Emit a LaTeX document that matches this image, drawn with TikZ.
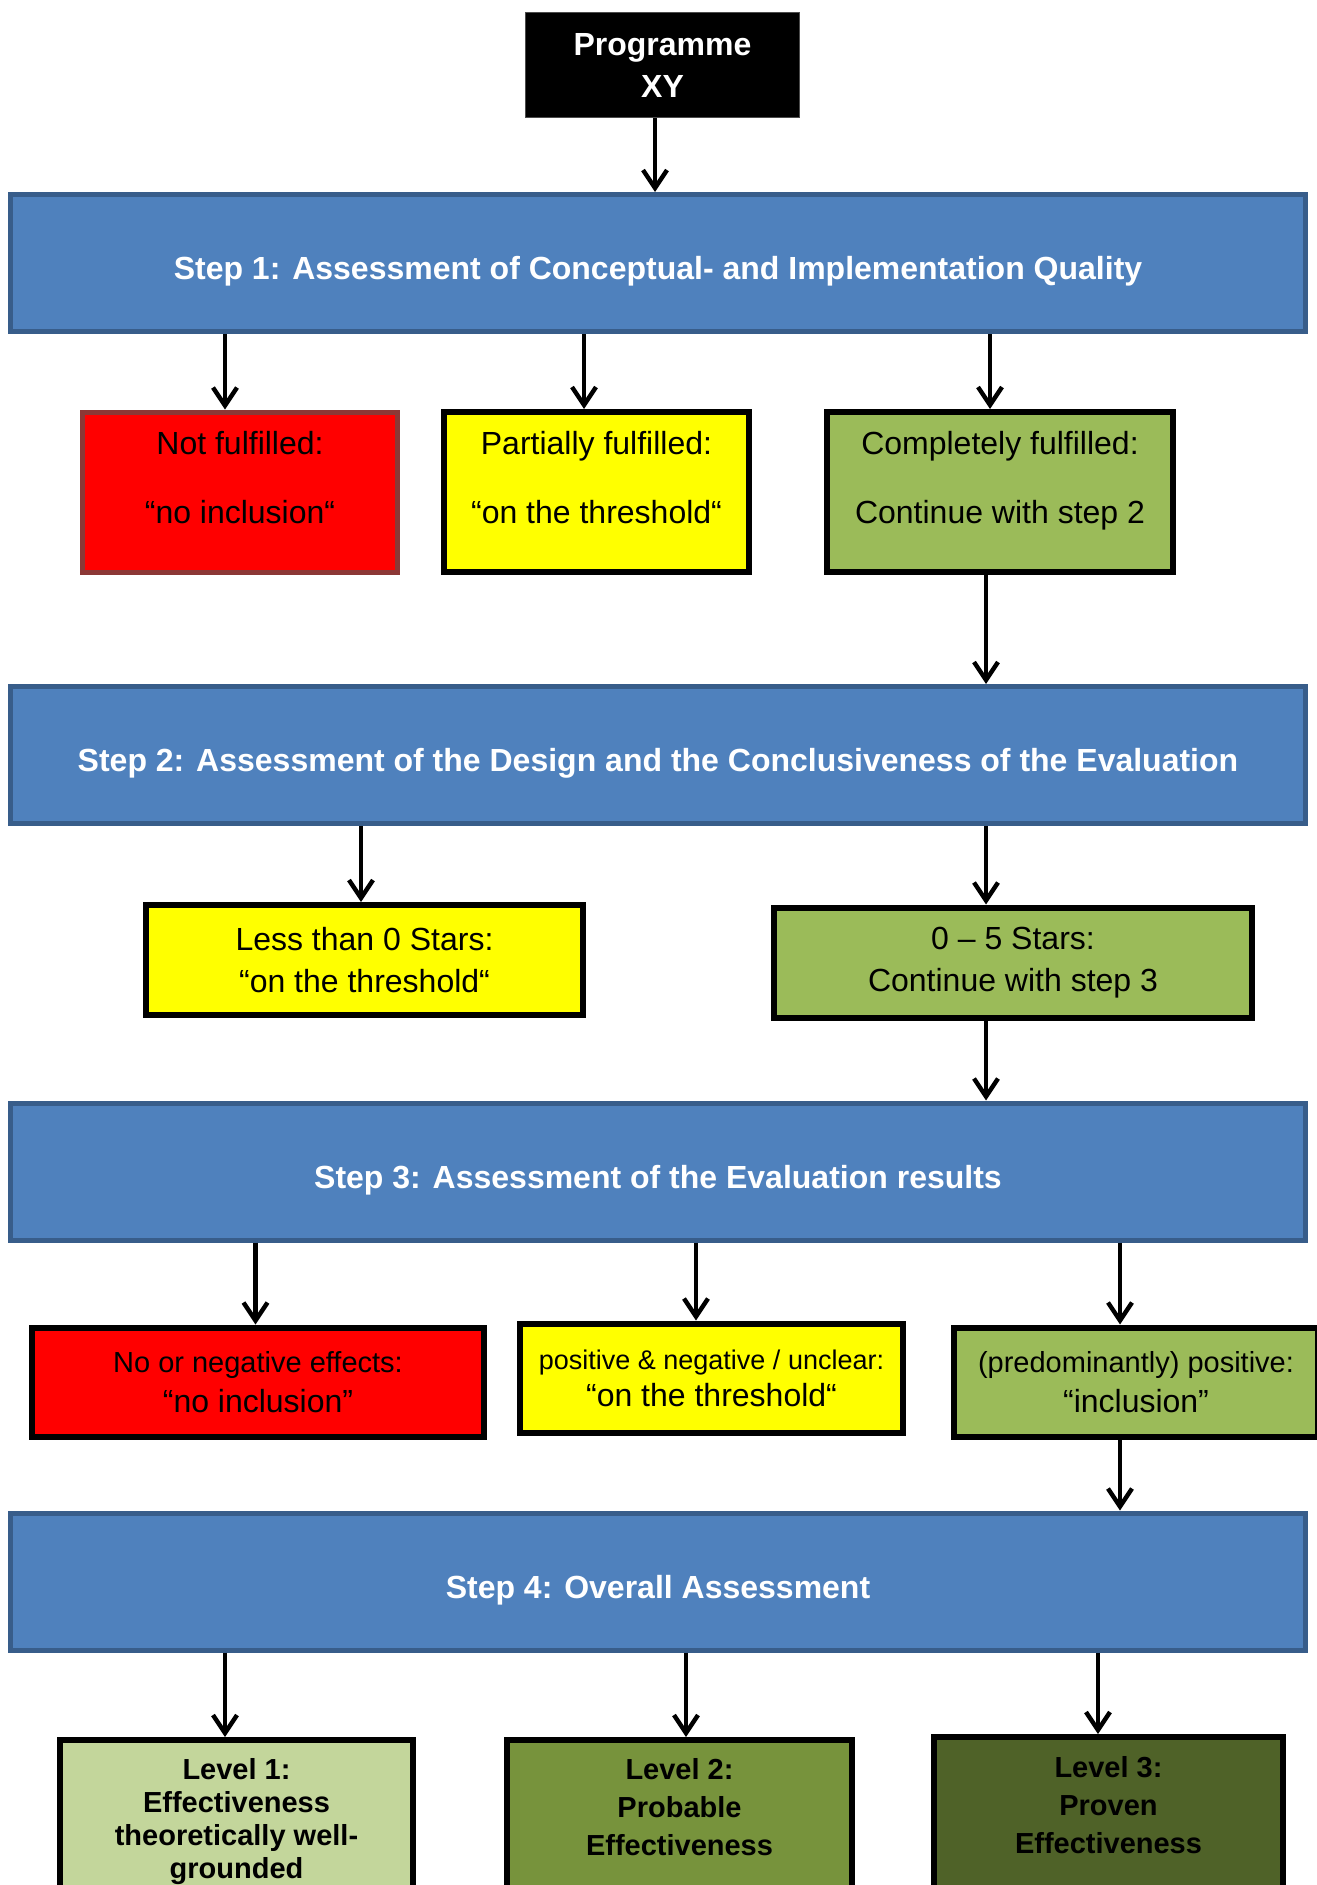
\documentclass[tikz,border=0pt]{standalone}
\usepackage{fontspec}
\setmainfont{Liberation Sans}
\usepackage{tikz}
\usetikzlibrary{arrows.meta}
\usetikzlibrary{positioning}
\definecolor{stepfill}{HTML}{4F81BD}
\definecolor{stepdraw}{HTML}{385D8A}
\definecolor{nofill}{HTML}{FF0000}
\definecolor{nodraw}{HTML}{8C3836}
\definecolor{midfill}{HTML}{FFFF00}
\definecolor{okfill}{HTML}{9BBB59}
\definecolor{lvlA}{HTML}{C3D69B}
\definecolor{lvlB}{HTML}{77933C}
\definecolor{lvlC}{HTML}{4F6228}
\tikzset{
    flow/.style = {line width=2.2pt,-{Straight Barb[length=9pt,width=12pt]}},
    box/.style = {draw=black,line width=3pt,inner sep=2pt,align=center,
        font=\fontsize{16}{21}\selectfont},
    stepbox/.style = {box,draw=stepdraw,fill=stepfill,line width=2.5pt,
        text=white,font=\bfseries\fontsize{16}{21}\selectfont,
        text height=16.6pt,text depth=0pt,
        minimum width=647.5pt,minimum height=68.5pt},
    progbox/.style = {box,draw=black!70,fill=black,line width=0.5pt,text=white,
        font=\bfseries\fontsize{16}{21}\selectfont,
        minimum width=137pt,minimum height=52.5pt},
    nobox/.style = {box,fill=nofill},
    midbox/.style = {box,fill=midfill},
    okbox/.style = {box,fill=okfill},
    firstrow/.style = {minimum height=80pt,
        font=\fontsize{16}{34.5}\selectfont,text height=31pt,text depth=0pt},
    secondrow/.style = {minimum height=55pt},
    thirdrow/.style = {minimum height=54.5pt,font=\fontsize{16}{20}\selectfont},
    lvlbox/.style = {box,anchor=north,minimum height=125pt,
        font=\bfseries\fontsize{14.5}{19}\selectfont}
}
\begin{document}
\begin{tikzpicture}[x=0.5pt,y=-0.5pt]
    \useasboundingbox (0,0) rectangle (1317,1885);
    % Programme
    \path (662.5,65) node[progbox] (prog) {Programme\\XY};
    % Steps
    \path (658,263) node[stepbox] (s1)
            {Step 1: Assessment of Conceptual- and Implementation Quality}
        (658,755) node[stepbox] (s2)
            {Step 2: Assessment of the Design and the Conclusiveness of the Evaluation}
        (658,1171.5) node[stepbox] (s3)
            {Step 3: Assessment of the Evaluation results}
        (658,1581.5) node[stepbox] (s4)
            {Step 4: Overall Assessment}
    ;
    % Results of step 1
    \path (240,492) node[nobox,firstrow,draw=nodraw,line width=2.5pt,
            minimum width=157.5pt] (s1a) {Not fulfilled:\\“no inclusion“}
        (596.5,492) node[midbox,firstrow,minimum width=152.5pt] (s1b)
            {Partially fulfilled:\\“on the threshold“}
        (1000,492) node[okbox,firstrow,minimum width=173pt] (s1c)
            {Completely fulfilled:\\Continue with step 2}
    ;
    % Results of step 2
    \path (364.5,960) node[midbox,secondrow,minimum width=218.5pt] (s2a)
            {Less than 0 Stars:\\“on the threshold“}
        (1013,962.5) node[okbox,secondrow,minimum width=239pt] (s2b)
            {0 – 5 Stars:\\Continue with step 3}
    ;
    % Results of step 3
    \path (258,1382) node[nobox,thirdrow,minimum width=226pt] (s3a)
            {{\fontsize{14.5}{20}\selectfont No or negative effects:}\\“no inclusion”}
        (711.5,1378) node[midbox,thirdrow,minimum width=191.5pt,
            font=\fontsize{16}{18.5}\selectfont] (s3b)
            {{\fontsize{13.5}{18.5}\selectfont positive \& negative / unclear:}\\“on the threshold“}
        (1136,1382) node[okbox,thirdrow,minimum width=182pt] (s3c)
            {{\fontsize{14.5}{20}\selectfont (predominantly) positive:}\\“inclusion”}
    ;
    % Levels
    \path (236.5,1737) node[lvlbox,fill=lvlA,minimum width=176.5pt,
            font=\bfseries\fontsize{14.5}{16.5}\selectfont,
            text height=13pt,text depth=0pt] (l1)
            {Level 1:\\Effectiveness\\theoretically well-\\grounded}
        (679.5,1737) node[lvlbox,fill=lvlB,minimum width=172.5pt,
            text height=0pt,text depth=10pt] (l2)
            {Level 2:\\Probable\\Effectiveness}
        (1108.5,1734) node[lvlbox,fill=lvlC,minimum width=174.5pt,
            text height=0pt,text depth=9pt] (l3)
            {Level 3:\\Proven\\Effectiveness}
    ;
    % Arrows
    \foreach \src/\dest/\xpos in {prog/s1/655,s1/s1a/225,s1/s1b/584,s1/s1c/990,
            s1c/s2/986,s2/s2a/361,s2/s2b/986,s2b/s3/986,
            s3/s3a/255.5,s3/s3b/696,s3/s3c/1120,s3c/s4/1120,
            s4/l1/225,s4/l2/686,s4/l3/1098}
        \draw[flow] (\src.south -| \xpos,0) -- (\dest.north -| \xpos,0);
\end{tikzpicture}
\end{document}
